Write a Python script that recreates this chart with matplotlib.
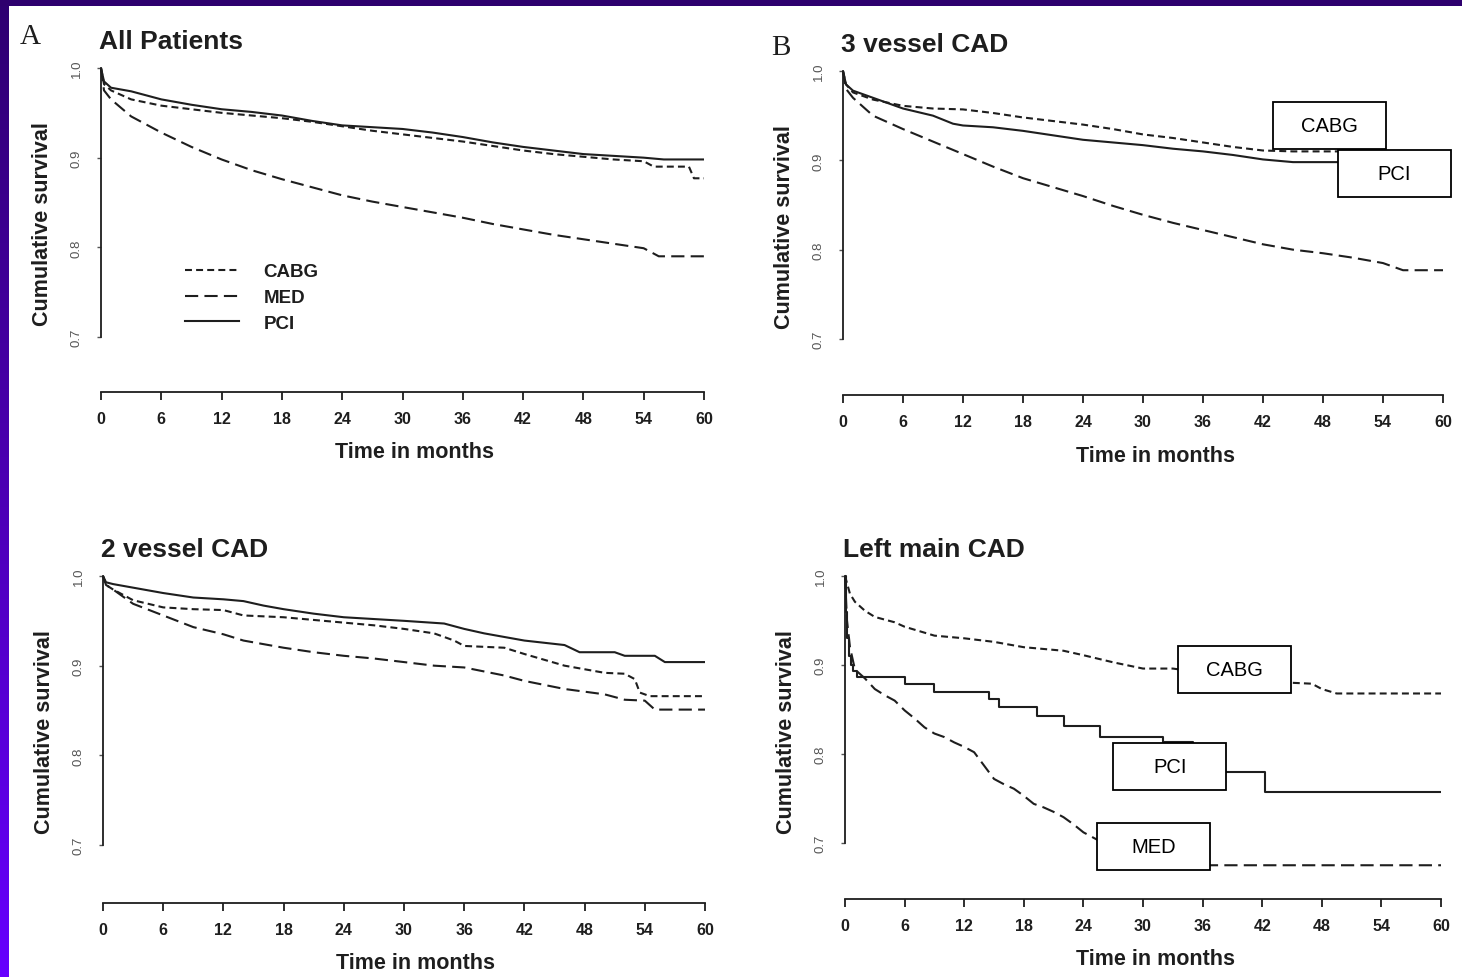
import numpy as np
import matplotlib
matplotlib.use("Agg")
import matplotlib.pyplot as plt
from matplotlib.patches import Rectangle
from matplotlib.lines import Line2D
from matplotlib.colors import LinearSegmentedColormap

plt.rcParams['font.family'] = ['Liberation Sans', 'DejaVu Sans']
plt.rcParams['lines.scale_dashes'] = False

W, H = 1462, 978

# ---------------- data ----------------
months_ticks = [0, 6, 12, 18, 24, 30, 36, 42, 48, 54, 60]
surv_ticks = [0.7, 0.8, 0.9, 1.0]
surv_tick_labels = ["0.7", "0.8", "0.9", "1.0"]
groups = ["CABG", "MED", "PCI"]
titles = ["All Patients", "3 vessel CAD", "2 vessel CAD", "Left main CAD"]
panel_letters = ["A", "B"]

# All patients
a_pci_t = [0, 0.3, 1, 3, 6, 9, 12, 15, 18, 21, 24, 27, 30, 33, 36, 39, 42, 45, 48, 51, 54, 56, 60]
a_pci_v = [1.0, 0.985, 0.978, 0.974, 0.965, 0.959, 0.954, 0.951, 0.947, 0.941, 0.936, 0.934, 0.932,
           0.928, 0.923, 0.917, 0.912, 0.908, 0.904, 0.902, 0.900, 0.898, 0.898]
a_cabg_t = [0, 0.3, 1, 3, 6, 9, 12, 15, 18, 21, 24, 27, 30, 33, 36, 39, 42, 45, 48, 51, 54, 55,
            58.5, 59, 60]
a_cabg_v = [1.0, 0.982, 0.975, 0.965, 0.958, 0.954, 0.950, 0.947, 0.944, 0.940, 0.935, 0.930, 0.926,
            0.922, 0.918, 0.913, 0.908, 0.904, 0.901, 0.898, 0.896, 0.890, 0.890, 0.877, 0.877]
a_med_t = [0, 0.3, 1, 3, 6, 9, 12, 15, 18, 21, 24, 27, 30, 33, 36, 39, 42, 45, 48, 51, 54, 55.5, 60]
a_med_v = [1.0, 0.975, 0.965, 0.946, 0.928, 0.912, 0.898, 0.886, 0.876, 0.867, 0.858, 0.851, 0.845,
           0.839, 0.833, 0.826, 0.820, 0.814, 0.809, 0.804, 0.799, 0.790, 0.790]

# 3 vessel CAD
b_pci_t = [0, 0.3, 1, 3, 6, 9, 11, 12, 15, 18, 21, 24, 27, 30, 33, 36, 39, 42, 45, 48, 60]
b_pci_v = [1.0, 0.985, 0.978, 0.970, 0.958, 0.950, 0.941, 0.939, 0.937, 0.933, 0.928, 0.923, 0.920,
           0.917, 0.913, 0.910, 0.906, 0.901, 0.898, 0.898, 0.898]
b_cabg_t = [0, 0.3, 1, 3, 6, 9, 12, 15, 18, 21, 24, 27, 30, 33, 36, 39, 42, 45, 48, 60]
b_cabg_v = [1.0, 0.985, 0.976, 0.968, 0.961, 0.958, 0.957, 0.953, 0.948, 0.944, 0.940, 0.935, 0.929,
            0.925, 0.920, 0.915, 0.911, 0.910, 0.910, 0.910]
b_med_t = [0, 0.3, 1, 3, 6, 9, 12, 15, 18, 21, 24, 27, 30, 33, 36, 39, 42, 45, 48, 51, 54, 56, 60]
b_med_v = [1.0, 0.98, 0.97, 0.95, 0.935, 0.921, 0.907, 0.893, 0.880, 0.870, 0.860, 0.849, 0.839,
           0.830, 0.822, 0.814, 0.806, 0.800, 0.796, 0.791, 0.785, 0.777, 0.777]

# 2 vessel CAD
c_pci_t = [0, 0.3, 1, 3, 6, 9, 12, 14, 16, 18, 21, 24, 27, 30, 34, 36, 38, 40, 42, 46, 47.5, 51,
           52, 55, 56, 60]
c_pci_v = [1.0, 0.993, 0.991, 0.987, 0.981, 0.976, 0.974, 0.972, 0.967, 0.963, 0.958, 0.954, 0.952,
           0.950, 0.947, 0.941, 0.936, 0.932, 0.928, 0.923, 0.915, 0.915, 0.911, 0.911, 0.904, 0.904]
c_cabg_t = [0, 0.3, 1, 3, 6, 9, 12, 14, 18, 21, 24, 27, 30, 33, 35, 36, 40, 42, 46, 50, 52, 53,
            53.5, 54.5, 60]
c_cabg_v = [1.0, 0.99, 0.985, 0.973, 0.965, 0.963, 0.962, 0.956, 0.954, 0.951, 0.948, 0.945, 0.941,
            0.936, 0.928, 0.922, 0.920, 0.913, 0.900, 0.892, 0.891, 0.885, 0.870, 0.866, 0.866]
c_med_t = [0, 0.3, 1, 3, 6, 9, 12, 14, 18, 21, 24, 27, 30, 33, 36, 40, 42, 46, 50, 52, 54, 55, 60]
c_med_v = [1.0, 0.99, 0.985, 0.969, 0.956, 0.943, 0.935, 0.928, 0.920, 0.915, 0.911, 0.908, 0.904,
           0.900, 0.898, 0.889, 0.883, 0.874, 0.868, 0.862, 0.861, 0.851, 0.851]

# Left main CAD
d_cabg_t = [0, 0.5, 1, 2, 3, 5, 6, 9, 12, 15, 18, 22, 24, 27, 30, 33, 37, 42, 45, 47, 48, 49.5, 60]
d_cabg_v = [1.0, 0.98, 0.971, 0.961, 0.954, 0.948, 0.943, 0.933, 0.930, 0.926, 0.920, 0.916, 0.911,
            0.903, 0.896, 0.896, 0.890, 0.885, 0.880, 0.879, 0.873, 0.868, 0.868]
d_pci_t = [0, 0.1, 0.2, 0.4, 0.6, 0.8, 1.2, 6, 9, 14.5, 15.5, 19.3, 22, 25.7, 32, 35, 42.3, 60]
d_pci_v = [1.0, 0.96, 0.93, 0.91, 0.90, 0.893, 0.887, 0.879, 0.870, 0.862, 0.853, 0.843, 0.832,
           0.819, 0.814, 0.780, 0.757, 0.757]
d_med_t = [0, 0.2, 0.5, 1, 2, 3, 4, 5, 6, 7, 8, 9, 10, 11, 12, 13, 14, 15, 16, 17, 18, 19, 20, 21,
           22, 23, 24, 25, 26, 30, 34, 36.5, 60]
d_med_v = [1.0, 0.95, 0.92, 0.895, 0.885, 0.873, 0.866, 0.860, 0.849, 0.840, 0.830, 0.823, 0.819,
           0.813, 0.808, 0.802, 0.787, 0.772, 0.766, 0.761, 0.753, 0.744, 0.740, 0.735, 0.729,
           0.721, 0.712, 0.706, 0.700, 0.690, 0.680, 0.675, 0.675]

panel_data = [
    {"CABG": (a_cabg_t, a_cabg_v), "MED": (a_med_t, a_med_v), "PCI": (a_pci_t, a_pci_v)},
    {"CABG": (b_cabg_t, b_cabg_v), "MED": (b_med_t, b_med_v), "PCI": (b_pci_t, b_pci_v)},
    {"CABG": (c_cabg_t, c_cabg_v), "MED": (c_med_t, c_med_v), "PCI": (c_pci_t, c_pci_v)},
    {"CABG": (d_cabg_t, d_cabg_v), "MED": (d_med_t, d_med_v), "PCI": (d_pci_t, d_pci_v)},
]

# annotation boxes (label, centre month, centre survival)
box_labels = [
    [],
    [("CABG", 48.65, 0.939), ("PCI", 55.1, 0.885)],
    [],
    [("CABG", 39.2, 0.895), ("PCI", 32.7, 0.786), ("MED", 31.1, 0.696)],
]

# ---------------- layout (pixels) ----------------
# x of month 0, x of month 60, y of survival 1.0, y of 0.7, y of x-axis line
layout = [
    (101, 704, 69, 338, 393),
    (843, 1443, 72, 340, 396),
    (103, 705, 577, 846, 904),
    (845, 1441, 577, 844, 900),
]
letter_pos = [(30, 37), (781, 48)]

ink = "#1e1e1e"
styles = {
    "CABG": dict(dashes=[5, 3]),
    "MED": dict(dashes=[9.5, 4.5]),
    "PCI": dict(linestyle="-"),
}
LW = 1.5

fig = plt.figure(figsize=(W / 100, H / 100), dpi=100)
fig.patch.set_facecolor("white")

XL = (-1.0, 61.0)
VTOP = 1.006

for i, (x0, x60, y10, y07, ybase) in enumerate(layout):
    ppx = (x60 - x0) / 60.0
    ppy = (y07 - y10) / 0.3
    left = x0 + XL[0] * ppx
    right = x0 + XL[1] * ppx
    top = y10 - (VTOP - 1.0) * ppy
    vbot = 1.0 - (ybase - y10) / ppy
    ax = fig.add_axes([left / W, 1 - ybase / H, (right - left) / W, (ybase - top) / H])
    ax.set_xlim(*XL)
    ax.set_ylim(vbot, VTOP)
    ax.patch.set_alpha(0)
    wpx = right - left
    hpx = ybase - top

    d = panel_data[i]
    step = (i == 3)
    for g in ["MED", "CABG", "PCI"]:
        t, v = d[g]
        kw = dict(color=ink, lw=LW, solid_capstyle="butt", dash_capstyle="butt", zorder=3,
                  clip_on=False)
        if g == "PCI" and step:
            kw["drawstyle"] = "steps-post"
        ax.plot(t, v, label=g, **kw, **styles[g])

    for sp in ["top", "right"]:
        ax.spines[sp].set_visible(False)
    ax.spines["left"].set_position(("data", 0))
    ax.spines["left"].set_bounds(0.7, 1.0)
    ax.spines["bottom"].set_bounds(0, 60)
    for sp in ["left", "bottom"]:
        ax.spines[sp].set_linewidth(1.3)
        ax.spines[sp].set_color(ink)

    ax.set_xticks(months_ticks)
    ax.set_xticklabels([str(m) for m in months_ticks], fontsize=11.5, fontweight="bold", color=ink)
    ax.tick_params(axis="x", length=5.5, width=1.3, pad=8, color=ink)
    ax.set_yticks(surv_ticks)
    ax.set_yticklabels(surv_tick_labels, fontsize=9.5, color="#555555", rotation=90,
                       va="center")
    ax.tick_params(axis="y", length=3, width=1.0, pad=10, color="#555555")

    ax.set_xlabel("Time in months", fontsize=15.5, fontweight="bold", color=ink)
    ax.xaxis.set_label_coords((x0 + 30 * ppx + 12 - left) / wpx, -60 / hpx)
    ax.xaxis.label.set_va("center")
    ax.set_ylabel("Cumulative survival", fontsize=15.5, fontweight="bold", color=ink)
    ax.yaxis.set_label_coords((x0 - 58 - left) / wpx, (ybase - (y10 + 155)) / hpx)
    ax.yaxis.label.set_va("center")

    ax.annotate(titles[i], xy=(0, 1.0), xycoords="data", xytext=(-1.5, 20 * 0.72),
                textcoords="offset points", ha="left", va="baseline", fontsize=19,
                fontweight="bold", color=ink, annotation_clip=False)

    for (lab, tc, vc) in box_labels[i]:
        bw, bh = 113 / ppx, 47 / ppy
        ax.add_patch(Rectangle((tc - bw / 2, vc - bh / 2), bw, bh, facecolor="white",
                               edgecolor="black", lw=1.3, zorder=6, clip_on=False))
        ax.text(tc, vc, lab, ha="center", va="center", fontsize=14.5, color="black",
                zorder=7, clip_on=False)

    if i == 0:
        handles = [Line2D([], [], color=ink, lw=LW, **styles[g]) for g in groups]
        leg = ax.legend(handles, groups, loc="upper left",
                        bbox_to_anchor=((185 - left) / wpx, (ybase - 264) / hpx),
                        frameon=False, fontsize=13.5, handlelength=2.9, handletextpad=1.3,
                        labelspacing=0.47, borderpad=0, borderaxespad=0)
        for txt in leg.get_texts():
            txt.set_color(ink)
            txt.set_fontweight("bold")

for lab, (lx, ly) in zip(panel_letters, letter_pos):
    fig.text(lx / W, 1 - ly / H, lab, fontsize=21, family="Liberation Serif",
             ha="center", va="center", color=ink)

# slide border
fig.add_artist(Rectangle((0, 1 - 7 / H), 1, 7 / H, transform=fig.transFigure,
                         facecolor="#2e006e", edgecolor="none", zorder=10))
bax = fig.add_axes([0, 0, 9 / W, 1])
grad = np.linspace(0, 1, 256).reshape(-1, 1)
cmap = LinearSegmentedColormap.from_list("border", ["#2e0070", "#4c00b4", "#6600ff"])
bax.imshow(grad, aspect="auto", cmap=cmap, extent=[0, 1, 1, 0])
bax.set_axis_off()

fig.savefig("out.png", dpi=100, facecolor="white")
